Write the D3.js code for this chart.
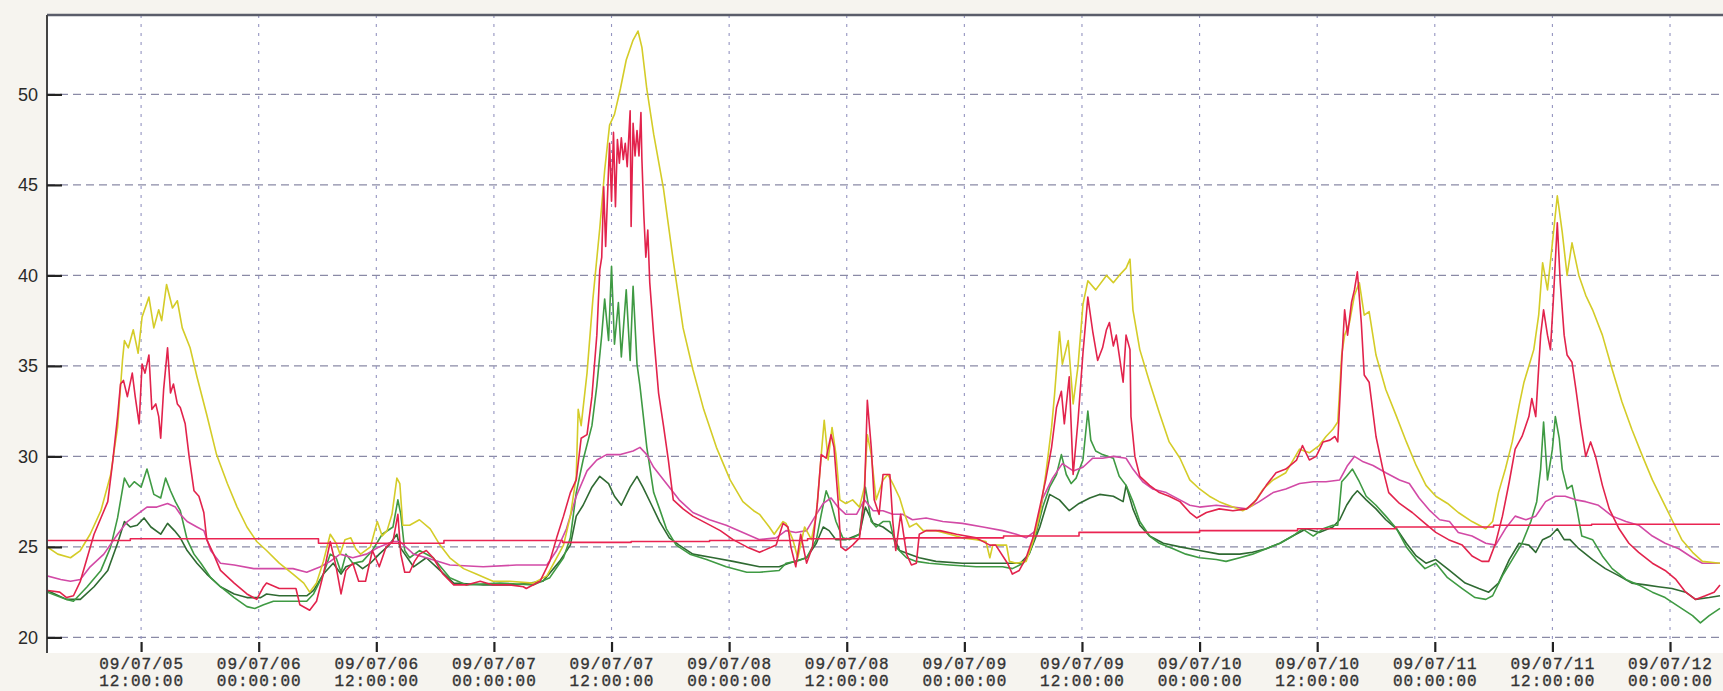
<!DOCTYPE html>
<html><head><meta charset="utf-8">
<script src="https://cdn.jsdelivr.net/npm/d3@7"></script>
<style>
html,body{margin:0;padding:0;background:#f6f4ef;}
svg{display:block;}
</style></head><body>
<svg id="chart" width="1723" height="691"></svg>
<script>
// time values are hours after 09/07/05 00:00
const yTicks = [20, 25, 30, 35, 40, 45, 50];
const xTickHours = [12, 24, 36, 48, 60, 72, 84, 96, 108, 120, 132, 144, 156, 168];
const timeStartHour = 2.4, timeEndHour = 173.1;

const seriesYellow = [[2.4,25.0],[3.5,24.6],[4.8,24.4],[5.8,24.8],[6.8,25.7],[7.9,27.0],[8.9,29.0],[9.6,31.6],[10.1,35.3],[10.3,36.4],[10.7,36.0],[11.2,37.0],[11.7,35.7],[12.1,37.7],[12.8,38.8],[13.3,37.1],[13.8,38.1],[14.1,37.5],[14.6,39.5],[15.2,38.2],[15.7,38.6],[16.2,37.1],[17.0,36.0],[17.7,34.4],[18.7,32.3],[19.7,30.1],[20.8,28.5],[21.8,27.2],[22.8,26.1],[23.8,25.3],[24.8,24.8],[26.1,24.1],[27.5,23.5],[28.6,23.0],[29.2,22.5],[29.9,23.0],[30.6,24.2],[31.3,25.7],[31.9,25.2],[32.3,24.6],[32.8,25.4],[33.4,25.5],[33.9,24.9],[34.4,24.6],[35.4,25.0],[36.1,26.4],[36.6,25.6],[37.1,25.9],[37.6,26.8],[38.1,28.8],[38.4,28.5],[38.7,26.2],[39.4,26.2],[40.4,26.5],[41.5,26.0],[42.5,25.1],[43.5,24.4],[44.9,23.8],[46.2,23.5],[47.9,23.1],[49.6,23.1],[52.0,23.0],[53.4,23.4],[54.4,24.4],[55.1,25.1],[55.8,26.7],[56.4,28.9],[56.6,32.6],[56.9,31.7],[57.5,34.6],[58.1,38.7],[58.8,42.6],[59.3,45.8],[59.8,48.3],[60.3,48.9],[60.9,50.3],[61.5,51.9],[62.2,53.0],[62.7,53.5],[63.1,52.6],[63.6,50.3],[64.3,47.8],[65.3,44.8],[66.3,40.8],[67.3,37.1],[68.3,34.8],[69.4,32.6],[70.7,30.5],[72.1,28.7],[73.4,27.5],[74.5,27.0],[75.1,26.8],[76.1,26.1],[76.6,25.7],[77.5,26.4],[77.8,26.3],[78.5,25.4],[79.0,24.4],[79.7,26.1],[80.4,25.4],[80.9,26.8],[81.4,30.1],[81.7,32.0],[82.1,29.8],[82.5,31.6],[82.9,30.1],[83.3,27.6],[83.9,27.4],[84.6,27.6],[85.3,27.2],[85.8,28.3],[86.1,31.2],[86.5,30.1],[87.0,27.6],[87.7,28.7],[88.2,29.0],[88.7,28.5],[89.4,27.7],[89.9,26.8],[90.4,26.1],[91.1,26.3],[91.8,25.9],[93.1,25.9],[94.5,25.7],[95.8,25.5],[97.2,25.4],[98.2,25.3],[98.6,24.4],[98.9,25.1],[100.3,25.1],[100.6,24.2],[101.3,24.1],[102.3,24.2],[103.0,25.3],[103.7,26.8],[104.3,29.0],[104.9,31.6],[105.2,33.4],[105.7,36.9],[106.0,35.1],[106.6,36.4],[107.1,32.9],[107.6,35.0],[108.1,38.4],[108.6,39.7],[109.4,39.2],[110.5,40.0],[111.2,39.6],[111.8,40.0],[112.5,40.4],[112.9,40.9],[113.2,38.1],[113.9,35.9],[114.9,34.1],[115.9,32.4],[116.9,30.8],[118.0,29.9],[119.0,28.7],[120.0,28.2],[121.0,27.8],[122.0,27.5],[123.4,27.2],[124.4,27.0],[125.4,27.3],[126.5,28.2],[127.5,28.7],[128.8,29.1],[130.2,30.4],[131.2,30.2],[132.2,30.6],[132.9,31.1],[133.6,31.5],[134.1,31.9],[134.5,35.6],[134.8,36.7],[135.3,37.4],[135.8,38.9],[136.3,39.6],[136.8,37.8],[137.3,38.0],[138.0,35.6],[139.0,33.7],[140.1,32.2],[141.1,30.8],[142.1,29.5],[143.1,28.4],[144.1,27.8],[145.3,27.4],[146.4,26.9],[147.8,26.4],[149.2,26.0],[149.9,26.4],[150.5,28.0],[151.2,29.3],[151.9,30.8],[152.6,32.8],[153.1,34.1],[153.6,35.0],[154.1,35.9],[154.6,37.8],[155.0,40.7],[155.5,39.2],[156.0,41.8],[156.5,44.4],[157.0,42.4],[157.5,40.0],[158.0,41.8],[158.7,40.0],[159.4,38.9],[160.1,38.1],[161.1,36.7],[162.1,34.8],[163.1,33.0],[164.1,31.5],[165.2,30.0],[166.2,28.7],[167.2,27.6],[168.2,26.5],[169.2,25.4],[170.3,24.7],[171.3,24.2],[173.1,24.1]];

const seriesRed = [[2.4,22.6],[3.7,22.5],[4.4,22.2],[5.1,22.3],[5.8,23.1],[6.5,24.4],[7.2,25.7],[7.9,26.6],[8.6,27.5],[9.1,29.7],[9.6,32.2],[9.9,34.0],[10.2,34.2],[10.6,33.3],[11.1,34.6],[11.4,33.3],[11.8,31.8],[12.1,35.1],[12.4,34.6],[12.8,35.6],[13.1,32.6],[13.5,32.9],[13.8,32.2],[14.0,31.0],[14.3,33.7],[14.7,36.0],[15.0,33.5],[15.3,34.0],[15.7,32.9],[16.0,32.7],[16.5,31.8],[16.9,30.0],[17.4,28.1],[17.9,27.8],[18.4,26.9],[18.7,25.4],[19.4,24.6],[20.1,23.7],[21.5,23.0],[22.8,22.4],[23.8,22.1],[24.5,22.8],[24.8,23.0],[26.1,22.7],[27.8,22.7],[28.2,21.8],[29.2,21.5],[29.9,22.0],[30.6,23.5],[31.3,25.3],[31.9,23.9],[32.4,22.4],[32.9,23.7],[33.6,24.1],[34.2,23.1],[34.9,23.1],[35.6,24.8],[36.3,23.9],[37.0,25.0],[37.7,25.3],[38.2,26.8],[38.5,24.6],[38.9,23.6],[39.4,23.6],[39.9,24.2],[40.4,24.6],[41.1,24.8],[41.8,24.4],[42.8,23.5],[43.9,22.9],[45.2,22.9],[46.6,23.1],[47.9,22.9],[49.6,22.9],[51.0,22.8],[51.3,22.7],[52.7,23.1],[53.7,24.2],[54.4,25.5],[55.1,26.7],[55.8,28.0],[56.4,28.7],[56.9,31.0],[57.5,31.2],[58.0,33.3],[58.5,36.7],[58.8,40.3],[59.0,41.0],[59.2,44.9],[59.4,41.6],[59.6,44.5],[59.8,47.3],[60.0,44.1],[60.2,47.9],[60.4,43.8],[60.6,47.5],[60.8,46.2],[61.0,47.6],[61.2,46.4],[61.4,47.3],[61.6,46.0],[61.9,49.1],[62.0,42.7],[62.2,48.4],[62.4,46.6],[62.6,48.0],[62.8,46.6],[63.0,49.0],[63.1,46.4],[63.3,43.3],[63.5,41.0],[63.7,42.5],[63.9,39.6],[64.3,36.7],[64.8,33.5],[65.3,31.7],[65.8,29.8],[66.3,27.6],[67.3,27.1],[68.3,26.7],[69.7,26.3],[71.1,25.9],[72.4,25.4],[73.8,25.0],[75.1,24.7],[76.8,25.1],[77.5,26.3],[78.0,26.1],[78.3,25.0],[78.8,23.9],[79.3,25.7],[79.9,24.1],[80.5,25.0],[81.0,27.4],[81.4,30.1],[81.9,29.9],[82.4,31.2],[82.7,30.5],[83.1,27.7],[83.4,25.0],[83.9,24.8],[84.6,25.1],[85.3,25.5],[85.8,27.7],[86.1,33.1],[86.5,30.5],[86.8,27.6],[87.3,26.8],[87.7,29.0],[88.4,29.0],[88.7,26.4],[89.0,24.8],[89.5,26.8],[90.1,24.6],[90.6,24.0],[91.1,24.1],[91.4,25.7],[92.1,25.9],[93.5,25.9],[95.2,25.7],[97.2,25.5],[98.6,25.1],[99.2,25.1],[100.4,24.1],[100.9,23.5],[101.6,23.7],[102.3,24.4],[103.0,25.5],[103.7,27.2],[104.3,28.7],[104.9,30.5],[105.4,32.7],[105.9,33.6],[106.2,31.8],[106.7,34.4],[107.1,29.0],[107.6,32.0],[108.1,35.7],[108.6,38.8],[109.1,36.9],[109.6,35.3],[110.1,36.0],[110.5,37.0],[110.8,37.4],[111.2,36.1],[111.5,36.7],[111.8,35.6],[112.2,34.1],[112.5,36.7],[112.9,35.9],[113.0,32.2],[113.4,30.0],[113.9,28.9],[114.9,28.4],[115.9,28.0],[116.9,27.8],[118.0,27.5],[119.0,26.9],[119.7,26.6],[120.7,26.9],[122.0,27.1],[123.4,27.0],[124.8,27.1],[125.8,27.6],[126.8,28.4],[127.8,29.1],[128.8,29.3],[129.9,29.8],[130.5,30.6],[131.2,29.8],[131.9,30.0],[132.6,30.8],[133.3,30.9],[133.8,31.1],[134.1,30.8],[134.5,35.2],[134.8,38.1],[135.1,36.7],[135.5,38.5],[135.8,39.2],[136.1,40.2],[136.5,37.4],[136.8,34.5],[137.3,34.1],[138.0,31.1],[138.7,29.3],[139.3,28.0],[140.4,27.4],[141.7,26.9],[143.0,26.3],[144.1,25.8],[145.4,25.4],[146.8,25.1],[147.8,24.5],[148.8,24.2],[149.5,24.2],[150.2,25.2],[150.9,26.7],[151.6,28.6],[152.2,30.4],[152.9,31.1],[153.6,32.2],[153.9,33.2],[154.3,32.2],[154.8,36.7],[155.1,38.1],[155.5,36.7],[155.8,35.9],[156.1,38.7],[156.5,42.9],[156.8,39.6],[157.2,36.7],[157.5,35.6],[158.0,35.2],[158.4,33.7],[158.9,31.7],[159.4,30.0],[159.9,30.8],[160.4,30.0],[161.1,28.4],[161.8,27.1],[162.8,26.0],[163.8,25.2],[164.8,24.7],[166.2,24.1],[167.5,23.7],[168.6,23.2],[169.6,22.5],[170.6,22.1],[171.6,22.3],[172.5,22.5],[173.1,22.9]];

const seriesGreen = [[2.4,22.5],[4.4,22.1],[5.1,22.0],[6.5,22.8],[7.9,23.7],[8.9,25.0],[9.6,26.6],[10.3,28.8],[10.8,28.3],[11.3,28.6],[12.0,28.3],[12.6,29.3],[13.3,27.9],[14.0,27.7],[14.5,28.8],[15.0,28.1],[15.5,27.5],[16.0,27.0],[16.7,25.4],[17.4,24.6],[18.1,24.1],[19.1,23.3],[20.1,22.8],[21.5,22.2],[22.8,21.7],[23.6,21.6],[24.5,21.8],[25.5,22.0],[28.9,22.0],[29.6,22.4],[30.6,23.5],[31.3,24.6],[31.9,24.4],[32.4,23.6],[32.9,24.6],[33.6,24.1],[34.6,24.2],[35.6,24.8],[36.6,25.7],[37.7,26.1],[38.2,27.6],[38.5,26.8],[38.9,24.8],[39.4,24.4],[40.4,24.8],[41.8,24.4],[43.5,23.3],[45.2,22.9],[48.6,23.0],[52.0,22.9],[53.7,23.3],[55.1,24.4],[55.8,25.5],[56.4,28.0],[57.1,29.8],[58.0,31.7],[58.5,33.9],[59.0,36.7],[59.3,38.7],[59.7,36.4],[60.0,40.5],[60.3,36.2],[60.7,38.5],[61.0,35.5],[61.5,39.2],[61.9,35.3],[62.2,39.4],[62.6,35.1],[62.9,33.9],[63.6,30.5],[64.3,28.0],[64.9,27.1],[65.6,26.0],[66.6,25.1],[68.0,24.6],[69.7,24.3],[71.7,23.9],[73.8,23.6],[75.1,23.6],[77.1,23.7],[77.8,24.1],[78.8,24.2],[79.9,24.4],[80.9,25.4],[81.4,26.8],[81.9,28.1],[82.4,27.4],[82.9,26.4],[83.6,25.5],[84.3,25.4],[85.3,25.7],[85.9,28.3],[86.5,26.4],[87.0,26.1],[87.7,26.4],[88.4,26.4],[89.0,25.0],[90.1,24.4],[91.1,24.2],[92.4,24.1],[94.5,24.0],[97.2,23.9],[99.9,23.9],[100.9,23.8],[102.0,24.1],[102.6,24.6],[103.3,25.7],[104.0,27.2],[104.7,28.3],[105.4,29.0],[105.9,30.1],[106.4,29.0],[106.9,28.5],[107.4,28.8],[108.1,29.8],[108.6,32.5],[108.9,30.9],[109.4,30.3],[110.1,30.1],[110.7,30.0],[111.2,29.9],[111.8,28.9],[112.5,28.4],[113.2,27.5],[113.9,26.4],[114.9,25.6],[115.9,25.2],[117.3,24.9],[118.6,24.6],[120.0,24.4],[121.7,24.3],[122.7,24.2],[124.1,24.4],[125.4,24.6],[126.8,24.9],[128.2,25.2],[129.5,25.6],[130.5,26.0],[131.6,25.6],[132.6,26.0],[133.6,26.2],[134.1,26.2],[134.5,28.6],[135.0,28.9],[135.6,29.3],[136.3,28.6],[137.0,27.8],[138.0,27.3],[139.0,26.7],[140.1,26.0],[141.1,25.0],[142.1,24.3],[143.0,23.8],[144.1,24.1],[145.3,23.3],[146.8,22.7],[148.1,22.2],[149.2,22.1],[149.9,22.3],[150.9,23.4],[151.9,24.3],[152.9,25.2],[153.8,26.4],[154.4,27.5],[154.8,29.3],[155.1,31.9],[155.5,28.7],[156.0,30.4],[156.3,32.2],[156.7,31.0],[157.0,29.3],[157.5,28.2],[158.0,28.4],[158.5,27.1],[159.0,25.6],[160.1,25.4],[161.1,24.5],[162.1,23.8],[163.5,23.2],[164.8,22.9],[166.2,22.5],[167.5,22.2],[168.9,21.7],[170.3,21.2],[171.1,20.8],[172.0,21.2],[173.1,21.6]];

const seriesDarkGreen = [[2.4,22.6],[4.4,22.1],[5.8,22.1],[7.2,22.8],[8.6,23.7],[9.6,25.2],[10.3,26.4],[10.9,26.1],[11.6,26.2],[12.3,26.6],[13.0,26.1],[14.0,25.7],[14.7,26.3],[15.4,25.9],[16.0,25.5],[16.7,24.8],[17.7,24.1],[18.7,23.5],[20.1,22.8],[21.5,22.4],[22.8,22.2],[24.2,22.2],[24.8,22.4],[26.1,22.3],[28.9,22.3],[29.6,22.6],[30.6,23.5],[31.6,24.1],[32.4,23.5],[32.9,23.9],[33.9,24.1],[34.6,23.8],[35.4,24.1],[36.3,24.6],[37.3,25.1],[38.1,25.7],[38.4,25.0],[39.8,23.9],[41.1,24.4],[42.5,23.7],[43.9,23.0],[46.9,22.9],[50.3,22.9],[53.0,23.1],[54.7,24.2],[55.8,25.1],[56.4,26.7],[57.1,27.3],[58.0,28.3],[58.8,28.9],[59.7,28.5],[60.3,27.8],[61.0,27.3],[61.9,28.3],[62.6,28.9],[63.2,28.3],[64.1,27.3],[64.9,26.4],[65.9,25.5],[66.9,25.1],[68.3,24.6],[70.4,24.4],[72.4,24.2],[75.1,23.9],[77.1,23.9],[78.1,24.1],[79.9,24.4],[80.9,25.2],[81.6,26.1],[82.2,25.9],[82.9,25.4],[83.9,25.4],[85.3,25.7],[85.9,27.2],[86.7,26.3],[87.7,26.1],[88.7,25.7],[89.4,24.8],[90.4,24.6],[91.4,24.4],[93.1,24.2],[95.8,24.1],[98.6,24.1],[101.7,24.1],[102.6,24.6],[103.7,26.1],[104.7,27.9],[105.7,27.6],[106.7,27.0],[107.7,27.4],[108.8,27.7],[109.8,27.9],[111.2,27.8],[112.2,27.5],[112.5,28.4],[113.2,27.1],[113.9,26.2],[114.9,25.6],[116.3,25.2],[118.0,25.0],[120.0,24.8],[122.0,24.6],[124.1,24.6],[125.4,24.7],[126.8,24.9],[128.2,25.2],[129.5,25.6],[130.9,26.0],[132.2,25.8],[133.6,26.1],[134.3,26.5],[135.0,27.3],[135.6,27.8],[136.1,28.1],[137.0,27.6],[138.0,27.1],[139.0,26.5],[140.1,26.0],[141.1,25.2],[142.1,24.5],[143.1,24.1],[144.1,24.3],[145.5,23.7],[147.1,23.0],[148.5,22.7],[149.5,22.5],[150.5,23.0],[151.6,24.3],[152.6,25.2],[153.6,25.1],[154.3,24.7],[155.0,25.4],[155.8,25.6],[156.5,26.0],[157.2,25.4],[157.8,25.4],[158.7,24.9],[160.1,24.3],[161.4,23.8],[162.8,23.4],[164.1,23.0],[165.5,22.9],[166.8,22.8],[168.2,22.7],[169.6,22.5],[170.6,22.1],[172.0,22.2],[173.1,22.3]];

const seriesMagenta = [[2.4,23.4],[3.8,23.2],[4.8,23.1],[5.8,23.2],[6.8,23.9],[8.2,24.6],[9.6,25.7],[10.6,26.4],[11.6,26.8],[12.6,27.2],[13.6,27.2],[14.7,27.4],[15.5,27.2],[16.0,26.8],[16.7,26.4],[17.7,26.1],[18.4,25.9],[19.1,24.8],[20.1,24.1],[21.5,24.0],[23.5,23.8],[25.5,23.8],[27.5,23.8],[28.9,23.6],[30.3,23.9],[31.3,24.2],[32.3,24.6],[33.6,24.4],[35.0,24.6],[36.3,25.0],[37.7,25.3],[38.4,25.3],[39.8,24.6],[41.1,24.4],[43.5,24.0],[46.9,23.9],[50.3,24.0],[53.4,24.0],[54.4,24.8],[55.4,26.0],[56.4,27.8],[57.5,29.2],[58.5,29.8],[59.5,30.1],[60.9,30.1],[62.2,30.3],[62.9,30.5],[63.6,30.1],[64.3,29.4],[65.6,28.5],[66.9,27.6],[68.3,26.9],[70.0,26.5],[71.7,26.2],[73.4,25.8],[75.1,25.4],[76.8,25.5],[77.8,25.9],[78.8,25.8],[79.9,25.9],[80.9,26.8],[81.6,27.4],[82.4,27.7],[83.1,27.2],[83.9,26.8],[85.0,26.8],[85.8,27.6],[86.7,27.0],[87.7,27.0],[88.7,26.8],[89.7,26.8],[90.7,26.5],[92.1,26.6],[93.8,26.4],[95.8,26.3],[97.9,26.1],[99.9,25.9],[101.3,25.7],[102.3,25.5],[103.3,25.9],[104.0,27.7],[105.0,28.8],[106.0,29.6],[107.1,29.2],[108.1,29.4],[109.1,29.9],[110.1,29.9],[111.2,30.0],[112.5,29.9],[113.2,29.3],[114.2,28.6],[115.2,28.2],[116.6,28.0],[118.0,27.6],[119.0,27.3],[120.0,27.2],[121.7,27.3],[123.4,27.2],[124.8,27.1],[126.1,27.5],[127.5,28.0],[128.8,28.2],[130.2,28.5],[131.6,28.6],[132.9,28.6],[134.3,28.7],[135.1,29.5],[135.8,30.0],[136.7,29.7],[137.7,29.5],[139.0,29.1],[140.4,28.7],[141.4,28.5],[142.4,27.7],[143.5,27.0],[144.5,26.5],[145.5,26.4],[146.4,25.8],[147.8,25.6],[149.2,25.2],[150.2,25.1],[151.2,26.0],[152.2,26.7],[153.3,26.5],[154.3,26.7],[155.3,27.5],[156.3,27.8],[157.3,27.8],[158.4,27.6],[159.4,27.5],[160.7,27.3],[162.1,26.7],[163.5,26.4],[164.8,26.2],[166.2,25.6],[167.5,25.2],[168.9,24.9],[170.3,24.4],[171.3,24.1],[173.1,24.1]];

const seriesFlat = [[2.4,25.35],[10.9,25.45],[30.1,25.2],[42.9,25.35],[55.0,25.25],[62.0,25.3],[70.0,25.35],[80.0,25.45],[90.0,25.5],[100.0,25.6],[107.7,25.8],[120.0,25.9],[130.0,26.0],[140.0,26.1],[150.0,26.2],[160.0,26.25],[173.1,26.25]];

const seriesList = [
  {name: "darkgreen", data: seriesDarkGreen, color: "#2f6a32", step: false},
  {name: "green", data: seriesGreen, color: "#3f9a43", step: false},
  {name: "magenta", data: seriesMagenta, color: "#d24aa6", step: false},
  {name: "yellow", data: seriesYellow, color: "#d4cc28", step: false},
  {name: "red", data: seriesRed, color: "#e2234c", step: false},
  {name: "flat", data: seriesFlat, color: "#ea2452", step: true}
];

const base = new Date(2009, 6, 5, 0, 0, 0);
const toDate = h => new Date(base.getTime() + h * 3600e3);

const svg = d3.select("#chart");
const W = 1723, H = 691;
const plotL = 47, plotT = 15, plotR = 1723, plotB = 653;

const x = d3.scaleTime().domain([toDate(timeStartHour), toDate(timeEndHour)]).range([47, 1720]);
const y = d3.scaleLinear().domain([20, 50]).range([637.4, 94.4]);

svg.append("rect").attr("x", 0).attr("y", 0).attr("width", W).attr("height", H).attr("fill", "#f6f4ef");
svg.append("rect").attr("x", plotL).attr("y", plotT).attr("width", plotR - plotL).attr("height", plotB - plotT).attr("fill", "#ffffff");

svg.append("clipPath").attr("id", "clip").append("rect")
  .attr("x", plotL + 1).attr("y", plotT + 1).attr("width", plotR - plotL).attr("height", plotB - plotT);

// grid
const grid = svg.append("g");
grid.selectAll("line.h").data(yTicks).join("line").attr("class", "h")
  .attr("x1", plotL).attr("x2", 1720).attr("y1", d => y(d)).attr("y2", d => y(d))
  .attr("stroke", "#8a8aa6").attr("stroke-width", 1.1).attr("stroke-dasharray", "8,5");
grid.selectAll("line.v").data(xTickHours).join("line").attr("class", "v")
  .attr("x1", d => x(toDate(d))).attr("x2", d => x(toDate(d))).attr("y1", plotT).attr("y2", 641)
  .attr("stroke", "#9494c0").attr("stroke-width", 1.1).attr("stroke-dasharray", "3,6");

// lines
const gLines = svg.append("g").attr("clip-path", "url(#clip)");
seriesList.forEach(s => {
  const line = d3.line().x(d => x(toDate(d[0]))).y(d => y(d[1]))
    .curve(s.step ? d3.curveStepAfter : d3.curveLinear);
  gLines.append("path").datum(s.data).attr("d", line)
    .attr("fill", "none").attr("stroke", s.color).attr("stroke-width", 1.6)
    .attr("stroke-linejoin", "round");
});

// frame
svg.append("line").attr("x1", plotL).attr("x2", plotR).attr("y1", plotT).attr("y2", plotT)
  .attr("stroke", "#5a5d6a").attr("stroke-width", 2.5);
svg.append("line").attr("x1", plotL).attr("x2", plotL).attr("y1", plotT).attr("y2", plotB)
  .attr("stroke", "#444").attr("stroke-width", 2);

// y axis
const yAxis = d3.axisLeft(y).tickValues(yTicks).tickSizeInner(-15).tickSizeOuter(0).tickPadding(9);
const gy = svg.append("g").attr("transform", `translate(${plotL},0)`).call(yAxis);
gy.select(".domain").remove();
gy.selectAll(".tick line").attr("stroke", "#222").attr("stroke-width", 2.2);
gy.selectAll(".tick text").attr("fill", "#2a2a2a")
  .style("font-family", "'Liberation Sans', Arial, sans-serif").style("font-size", "18px");

// x axis
const fmt1 = d3.timeFormat("%y/%m/%d"), fmt2 = d3.timeFormat("%H:%M:%S");
const xAxis = d3.axisBottom(x).tickValues(xTickHours.map(toDate)).tickSizeInner(10).tickSizeOuter(0).tickFormat(fmt1);
const gx = svg.append("g").attr("transform", "translate(0,642)").call(xAxis);
gx.select(".domain").remove();
gx.selectAll(".tick line").attr("stroke", "#222").attr("stroke-width", 2.2);
gx.selectAll(".tick text").each(function(d) {
  const t = d3.select(this);
  t.text(null).attr("y", 0).attr("dy", null);
  t.append("tspan").attr("x", 0).attr("y", 23).attr("dominant-baseline", "central").text(fmt1(d));
  t.append("tspan").attr("x", 0).attr("y", 40).attr("dominant-baseline", "central").text(fmt2(d));
}).attr("fill", "#333").attr("stroke", "#333").attr("stroke-width", 0.35)
  .style("font-family", "'Liberation Mono', monospace").style("font-size", "16px").style("letter-spacing", "1px");
</script>
</body></html>
